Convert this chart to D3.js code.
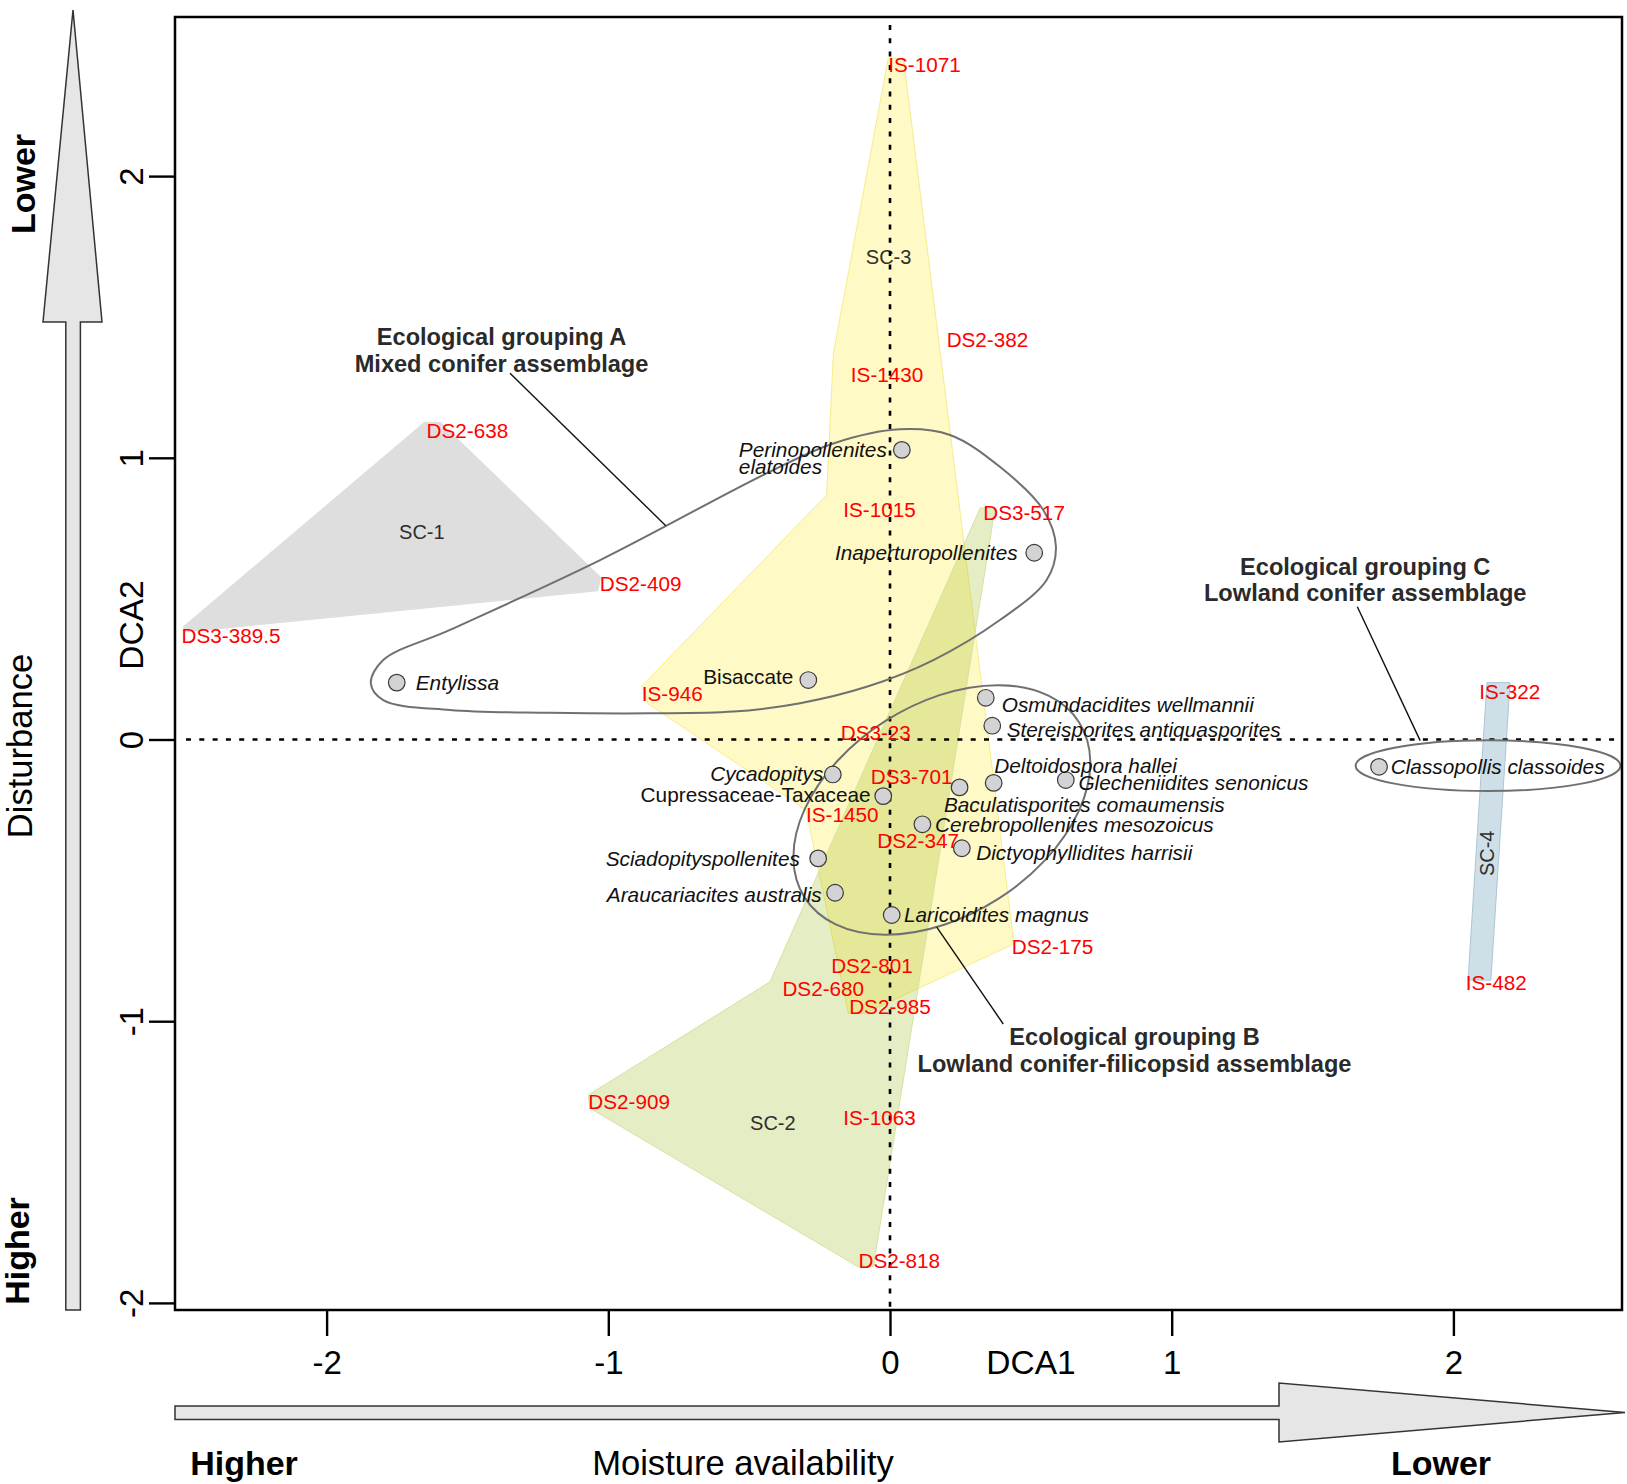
<!DOCTYPE html>
<html>
<head>
<meta charset="utf-8">
<script src="https://d3js.org/d3.v7.min.js"></script>
<style>
body { margin: 0; background: #fff; }
text { font-family: "Liberation Sans", Arial, Helvetica, sans-serif; }
</style>
</head>
<body>
<script>
// DCA ordination plot of samples and taxa

//axis ticks
var xTicks = [-2, -1, 0, 1, 2];
var yTicks = [-2, -1, 0, 1, 2];

//sample scores (red labels)
var sampleNames = ["IS-1071", "DS2-382", "IS-1430", "DS2-638", "IS-1015", "DS3-517", "DS2-409", "DS3-389.5",
    "IS-946", "IS-322", "DS3-23", "DS3-701", "IS-1450", "DS2-347", "DS2-175", "DS2-801", "IS-482",
    "DS2-680", "DS2-985", "DS2-909", "IS-1063", "DS2-818"];
var sampleX = [-0.006, 0.201, -0.139, -1.645, -0.166, 0.331, -1.030, -2.515,
    -0.881, 2.092, -0.175, -0.068, -0.298, -0.045, 0.432, -0.209, 2.044,
    -0.382, -0.145, -1.071, -0.166, -0.112];
var sampleY = [2.395, 1.420, 1.294, 1.095, 0.817, 0.805, 0.552, 0.368,
    0.161, 0.170, 0.024, -0.132, -0.268, -0.359, -0.735, -0.804, -0.862,
    -0.884, -0.948, -1.286, -1.343, -1.850];

//taxa scores (grey points)
var taxaNames = ["Perinopollenites\nelatoides", "Inaperturopollenites", "Entylissa", "Bisaccate",
    "Osmundacidites wellmannii", "Stereisporites antiquasporites", "Cycadopitys", "Cupressaceae-Taxaceae",
    "Deltoidospora hallei", "Glecheniidites senonicus", "Baculatisporites comaumensis",
    "Cerebropollenites mesozoicus", "Dictyophyllidites harrisii", "Sciadopityspollenites",
    "Araucariacites australis", "Laricoidites magnus", "Classopollis classoides"];
var taxaX = [0.042, 0.512, -1.751, -0.290, 0.340, 0.363, -0.203, -0.024, 0.368, 0.624, 0.247,
    0.115, 0.255, -0.255, -0.195, 0.006, 1.736];
var taxaY = [1.028, 0.663, 0.202, 0.211, 0.148, 0.049, -0.124, -0.201, -0.154, -0.144, -0.170,
    -0.301, -0.386, -0.422, -0.544, -0.623, -0.097];

//sample cluster hulls (outline vertices)
var hullNames = ["SC-1", "SC-3", "SC-2", "SC-4"];
var hullX = [
    [-1.654, -1.595, -1.027, -1.037, -2.499, -2.509],
    [-0.006, 0.048, 0.438, 0.432, -0.089, -0.148, -0.298, -0.859, -0.880, -0.225, -0.201],
    [0.320, 0.373, -0.059, -0.113, -1.065, -1.071, -0.426],
    [2.119, 2.201, 2.133, 2.052]
];
var hullY = [
    [1.125, 1.125, 0.576, 0.528, 0.382, 0.400],
    [2.418, 2.418, -0.706, -0.729, -0.972, -0.972, -0.250, 0.127, 0.191, 0.868, 1.371],
    [0.822, 0.822, -1.872, -1.872, -1.309, -1.262, -0.860],
    [0.202, 0.202, -0.854, -0.854]
];
var hullLabelX = [-1.662, -0.005, -0.416, 2.118];
var hullLabelY = [0.738, 1.714, -1.360, -0.404];

//ecological grouping A outline
var groupAX = [-1.843, -1.799, -1.562, -1.029, -0.438, -0.201, 0.035, 0.213, 0.390, 0.544, 0.589,
    0.556, 0.390, 0.154, -0.083, -0.319, -0.556, -0.852, -1.207, -1.562, -1.799];
var groupAY = [0.200, 0.282, 0.389, 0.637, 0.945, 1.051, 1.101, 1.081, 0.968, 0.815, 0.684,
    0.566, 0.424, 0.282, 0.187, 0.129, 0.099, 0.093, 0.095, 0.105, 0.140];

//ecological groupings B and C ellipses
var ellipseCX = [0.184, 2.123];
var ellipseCY = [-0.250, -0.093];
var ellipseA = [0.578, 0.470];
var ellipseB = [0.374, 0.090];
var ellipseAngle = [32.6, 0];

//grouping annotations
var groupLine1 = ["Ecological grouping A", "Ecological grouping B", "Ecological grouping C"];
var groupLine2 = ["Mixed conifer assemblage", "Lowland conifer-filicopsid assemblage", "Lowland conifer assemblage"];
var groupX = [-1.379, 0.868, 1.687];
var groupY = [1.430, -1.055, 0.615];
var leaderX1 = [-1.349, 0.166, 1.659];
var leaderY1 = [1.300, -0.666, 0.471];
var leaderX2 = [-0.796, 0.402, 1.882];
var leaderY2 = [0.759, -1.010, -0.004];

//begin script when window loads
window.onload = setChart;

function setChart(){
    var width = 1627,
        height = 1484;
    var left = 175, right = 1622, top = 17, bottom = 1310;

    var svg = d3.select("body")
        .append("svg")
        .attr("width", width)
        .attr("height", height);

    var x = d3.scaleLinear().domain([-2.5382, 2.5985]).range([left, right]);
    var y = d3.scaleLinear().domain([-2.0252, 2.5648]).range([bottom, top]);
    var unit = x(1) - x(0);

    //label layout for taxa: anchor, dx, dy (px)
    var taxaLayout = [
        ["end", -15, 0], ["end", -16.6, 0], ["start", 19, 0], ["end", -15, -3],
        ["start", 16, 7], ["start", 14.4, 4], ["end", -9.4, -1], ["end", -12.6, -1],
        ["start", 0.6, -17.3], ["start", 12.6, 3], ["start", -15.7, 17.7],
        ["start", 12.7, 0.7], ["start", 14.3, 4], ["end", -18.3, 0],
        ["end", -13.3, 1.6], ["start", 12.3, -0.7], ["start", 11.7, 0]
    ];
    var uprightTaxa = ["Bisaccate", "Cupressaceae-Taxaceae"];

    var hullStyle = {
        "SC-1": {fill: "#dedede", fo: 1, stroke: "#dedede"},
        "SC-3": {fill: "rgb(255,240,110)", fo: 0.4, stroke: "#f7ec8a"},
        "SC-2": {fill: "rgb(150,185,20)", fo: 0.25, stroke: "#d5e3a0"},
        "SC-4": {fill: "#cfdfe7", fo: 1, stroke: "#a9c6d6"}
    };

    svg.append("clipPath")
        .attr("id", "plotClip")
        .append("rect")
        .attr("x", left).attr("y", top)
        .attr("width", right - left).attr("height", bottom - top);

    var plot = svg.append("g").attr("clip-path", "url(#plotClip)");

    //hulls
    var hulls = hullNames.map(function(name, i){
        return {name: name, pts: hullX[i].map(function(v, j){ return [x(v), y(hullY[i][j])]; })};
    });
    plot.selectAll(".hull")
        .data(hulls)
        .enter()
        .append("path")
        .attr("class", "hull")
        .attr("d", function(d){ return "M" + d.pts.join("L") + "Z"; })
        .attr("fill", function(d){ return hullStyle[d.name].fill; })
        .attr("fill-opacity", function(d){ return hullStyle[d.name].fo; })
        .attr("stroke", function(d){ return hullStyle[d.name].stroke; })
        .attr("stroke-width", 1);

    //hull labels
    plot.selectAll(".hullLabel")
        .data(hullNames)
        .enter()
        .append("text")
        .attr("class", "hullLabel")
        .attr("transform", function(d, i){
            var t = "translate(" + x(hullLabelX[i]) + "," + y(hullLabelY[i]) + ")";
            return d == "SC-4" ? t + " rotate(-90)" : t;
        })
        .attr("text-anchor", "middle")
        .attr("dy", "0.35em")
        .attr("font-size", 20)
        .attr("fill", "#2e2e2e")
        .text(function(d){ return d; });

    //zero lines
    plot.append("line")
        .attr("x1", x(0)).attr("x2", x(0))
        .attr("y1", top + 8).attr("y2", bottom)
        .attr("stroke", "#000").attr("stroke-width", 2.6)
        .attr("stroke-dasharray", "5,8.3");
    plot.append("line")
        .attr("x1", left + 11).attr("x2", right)
        .attr("y1", y(0)).attr("y2", y(0))
        .attr("stroke", "#000").attr("stroke-width", 2.6)
        .attr("stroke-dasharray", "5,8.3");

    //grouping A outline
    var outline = d3.line()
        .x(function(d){ return x(d[0]); })
        .y(function(d){ return y(d[1]); })
        .curve(d3.curveCatmullRomClosed.alpha(0.5));
    plot.append("path")
        .datum(groupAX.map(function(v, i){ return [v, groupAY[i]]; }))
        .attr("d", outline)
        .attr("fill", "none")
        .attr("stroke", "#707070")
        .attr("stroke-width", 2);

    //grouping B and C ellipses
    plot.selectAll(".ell")
        .data(ellipseCX)
        .enter()
        .append("ellipse")
        .attr("class", "ell")
        .attr("cx", 0).attr("cy", 0)
        .attr("rx", function(d, i){ return ellipseA[i] * unit; })
        .attr("ry", function(d, i){ return ellipseB[i] * unit; })
        .attr("transform", function(d, i){
            return "translate(" + x(d) + "," + y(ellipseCY[i]) + ") rotate(" + (-ellipseAngle[i]) + ")";
        })
        .attr("fill", "none")
        .attr("stroke", "#707070")
        .attr("stroke-width", 2);

    //leader lines
    plot.selectAll(".leader")
        .data(leaderX1)
        .enter()
        .append("line")
        .attr("class", "leader")
        .attr("x1", function(d){ return x(d); })
        .attr("y1", function(d, i){ return y(leaderY1[i]); })
        .attr("x2", function(d, i){ return x(leaderX2[i]); })
        .attr("y2", function(d, i){ return y(leaderY2[i]); })
        .attr("stroke", "#111")
        .attr("stroke-width", 1.4);

    //sample labels
    plot.selectAll(".sample")
        .data(sampleNames)
        .enter()
        .append("text")
        .attr("class", "sample")
        .attr("x", function(d, i){ return x(sampleX[i]); })
        .attr("y", function(d, i){ return y(sampleY[i]); })
        .attr("dy", "0.35em")
        .attr("font-size", 20.7)
        .attr("fill", "#ff0000")
        .text(function(d){ return d; });

    //taxa points
    plot.selectAll(".taxon")
        .data(taxaNames)
        .enter()
        .append("circle")
        .attr("class", "taxon")
        .attr("cx", function(d, i){ return x(taxaX[i]); })
        .attr("cy", function(d, i){ return y(taxaY[i]); })
        .attr("r", 8.3)
        .attr("fill", "#d3d3d5")
        .attr("stroke", "#3a3a3a")
        .attr("stroke-width", 1.2);

    //taxa labels
    taxaNames.forEach(function(name, i){
        var lay = taxaLayout[i],
            lines = name.split("\n"),
            px = x(taxaX[i]) + lay[1],
            py = y(taxaY[i]) + lay[2];
        var t = plot.append("text")
            .attr("x", px).attr("y", py)
            .attr("dy", "0.35em")
            .attr("text-anchor", lay[0])
            .attr("font-size", 20.8)
            .attr("font-style", uprightTaxa.indexOf(name) >= 0 ? "normal" : "italic")
            .attr("fill", "#111")
            .text(lines[0]);
        if (lines.length > 1){
            var w = t.node().getComputedTextLength();
            plot.append("text")
                .attr("x", px - w).attr("y", py + 17.3)
                .attr("dy", "0.35em")
                .attr("font-size", 20.8)
                .attr("font-style", "italic")
                .attr("fill", "#111")
                .text(lines[1]);
        };
    });

    //grouping annotations
    var notes = svg.selectAll(".note")
        .data(groupLine1)
        .enter()
        .append("text")
        .attr("class", "note")
        .attr("text-anchor", "middle")
        .attr("font-size", 23.6)
        .attr("font-weight", "bold")
        .attr("fill", "#2a2a2a");
    notes.append("tspan")
        .attr("x", function(d, i){ return x(groupX[i]); })
        .attr("y", function(d, i){ return y(groupY[i]); })
        .attr("dy", "0.35em")
        .text(function(d){ return d; });
    notes.append("tspan")
        .attr("x", function(d, i){ return x(groupX[i]); })
        .attr("y", function(d, i){ return y(groupY[i]) + 26.6; })
        .attr("dy", "0.35em")
        .text(function(d, i){ return groupLine2[i]; });

    //axes
    var xAxis = svg.append("g")
        .attr("transform", "translate(0," + bottom + ")")
        .call(d3.axisBottom(x).tickValues(xTicks).tickSize(26).tickFormat(d3.format("d")));
    xAxis.select(".domain").remove();
    xAxis.selectAll("line").attr("stroke", "#000").attr("stroke-width", 2.4);
    xAxis.selectAll("text")
        .attr("y", 64).attr("dy", 0)
        .attr("font-size", 33)
        .attr("font-family", null)
        .attr("fill", "#000")
        .text(function(d){ return d < 0 ? "-" + Math.abs(d) : d; });

    var yAxis = svg.append("g")
        .attr("transform", "translate(" + left + ",0)")
        .call(d3.axisLeft(y).tickValues(yTicks).tickSize(26).tickFormat(d3.format("d")));
    yAxis.select(".domain").remove();
    yAxis.selectAll("line").attr("stroke", "#000").attr("stroke-width", 2.4);
    yAxis.selectAll("text")
        .attr("transform", "rotate(-90)")
        .attr("x", 0).attr("y", -32).attr("dy", 0)
        .attr("text-anchor", "middle")
        .attr("font-size", 33)
        .attr("font-family", null)
        .attr("fill", "#000")
        .text(function(d){ return d < 0 ? "-" + Math.abs(d) : d; });

    svg.selectAll(".tick text").style("font-family", '"Liberation Sans", Arial, sans-serif');

    //plot frame
    svg.append("rect")
        .attr("x", left).attr("y", top)
        .attr("width", right - left).attr("height", bottom - top)
        .attr("fill", "none")
        .attr("stroke", "#000")
        .attr("stroke-width", 2.5);

    //axis titles
    svg.append("text")
        .attr("x", 1031).attr("y", 1374)
        .attr("text-anchor", "middle")
        .attr("font-size", 33.5)
        .text("DCA1");
    svg.append("text")
        .attr("transform", "translate(143,625) rotate(-90)")
        .attr("text-anchor", "middle")
        .attr("font-size", 33.5)
        .text("DCA2");

    //gradient arrows
    var vArrow = [[73, 10], [102, 322], [80.4, 322], [80.4, 1310], [65.8, 1310], [65.8, 322], [43, 322]];
    var hArrow = [[1625, 1412.5], [1279, 1383], [1279, 1406], [175, 1406], [175, 1419.5], [1279, 1419.5], [1279, 1442]];
    svg.selectAll(".arrow")
        .data([vArrow, hArrow])
        .enter()
        .append("path")
        .attr("class", "arrow")
        .attr("d", function(d){ return "M" + d.join("L") + "Z"; })
        .attr("fill", "#e6e6e6")
        .attr("stroke", "#333")
        .attr("stroke-width", 1.5);

    //gradient labels
    var sideLabels = [
        {t: "Lower", x: 35, y: 184, b: true},
        {t: "Disturbance", x: 32, y: 746, b: false},
        {t: "Higher", x: 29, y: 1251, b: true}
    ];
    svg.selectAll(".side")
        .data(sideLabels)
        .enter()
        .append("text")
        .attr("class", "side")
        .attr("transform", function(d){ return "translate(" + d.x + "," + d.y + ") rotate(-90)"; })
        .attr("text-anchor", "middle")
        .attr("font-size", function(d){ return d.b ? 34 : 34.6; })
        .attr("font-weight", function(d){ return d.b ? "bold" : "normal"; })
        .text(function(d){ return d.t; });

    var bottomLabels = [
        {t: "Higher", x: 244, b: true},
        {t: "Moisture availability", x: 743, b: false},
        {t: "Lower", x: 1441, b: true}
    ];
    svg.selectAll(".bottomLabel")
        .data(bottomLabels)
        .enter()
        .append("text")
        .attr("class", "bottomLabel")
        .attr("x", function(d){ return d.x; })
        .attr("y", 1475)
        .attr("text-anchor", "middle")
        .attr("font-size", function(d){ return d.b ? 34 : 34.6; })
        .attr("font-weight", function(d){ return d.b ? "bold" : "normal"; })
        .text(function(d){ return d.t; });
};
</script>
</body>
</html>
